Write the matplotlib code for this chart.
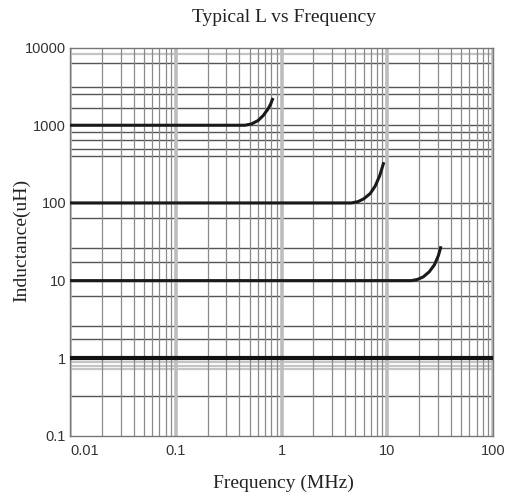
import numpy as np
import matplotlib
matplotlib.use('Agg')
import matplotlib.pyplot as plt
from matplotlib.ticker import FixedLocator, LogLocator, NullFormatter

# curves (frequency in MHz, inductance in uH)
f_1000 = [0.01, 0.45, 0.52, 0.60, 0.67, 0.74, 0.79, 0.82]
L_1000 = [1000, 1000, 1040, 1150, 1330, 1600, 1880, 2150]

f_100 = [0.01, 4.6, 5.3, 6.0, 6.9, 7.7, 8.5, 9.2]
L_100 = [100, 100, 104, 113, 132, 165, 225, 320]

f_10 = [0.01, 17.0, 19.5, 22.0, 25.0, 28.0, 30.5, 32.0]
L_10 = [10, 10, 10.4, 11.2, 13.0, 16.0, 21.0, 26.5]

f_1 = [0.01, 100]
L_1 = [1, 1]

# horizontal rulings of the printed chart paper
hgrid_dark = [0.33, 1.77, 2.6, 6.3, 17.5, 26.5, 64,
              400, 500, 650, 820, 1670, 2560, 3070, 6300]
hgrid_light = [0.72, 0.8, 0.9, 8300]

xticks = [0.01, 0.1, 1, 10, 100]
xticklabels = ['0.01', '0.1', '1', '10', '100']
yticks = [0.1, 1, 10, 100, 1000, 10000]
yticklabels = ['0.1', '1', '10', '100', '1000', '10000']

fig = plt.figure(figsize=(5.05, 4.98), dpi=100)
ax = fig.add_axes([0.139, 0.1245, 0.837, 0.780])
ax.set_xscale('log')
ax.set_yscale('log')
ax.set_xlim(0.01, 100)
ax.set_ylim(0.1, 10000)

# vertical rulings
ax.xaxis.set_minor_locator(LogLocator(base=10, subs=np.arange(2, 10)))
ax.xaxis.set_minor_formatter(NullFormatter())
ax.grid(True, which='minor', axis='x', color='#8a8a8a', lw=0.9)
ax.grid(True, which='major', axis='x', color='#bdbdbd', lw=2.6)
ax.yaxis.set_minor_locator(FixedLocator([]))

for v in hgrid_light:
    ax.axhline(v, color='#c4c4c4', lw=1.6, zorder=1)
for v in hgrid_dark:
    ax.axhline(v, color='#555555', lw=1.0, zorder=1)
for v in yticks[1:-1]:
    ax.axhline(v, color='#555555', lw=1.0, zorder=1)

ax.plot(f_1000, L_1000, color='#1a1a1a', lw=2.2, zorder=3)
ax.plot(f_100, L_100, color='#1a1a1a', lw=2.2, zorder=3)
ax.plot(f_10, L_10, color='#1a1a1a', lw=2.2, zorder=3)
ax.plot(f_1, L_1, color='#111111', lw=3.0, zorder=3)

for s in ax.spines.values():
    s.set_color('#777777')
    s.set_linewidth(1.0)

ax.set_xticks(xticks)
ax.set_xticklabels(xticklabels, family='Liberation Sans', fontsize=10.5, color='#333333')
ax.set_yticks(yticks)
ax.set_yticklabels(yticklabels, family='Liberation Sans', fontsize=10.5, color='#333333')
ax.tick_params(which='both', length=0)
ax.tick_params(axis='x', pad=6)
ax.tick_params(axis='y', pad=3)
ax.get_xticklabels()[0].set_ha('left')

fig.text(0.562, 1 - 18 / 498, 'Typical L vs Frequency', family='Liberation Serif',
         fontsize=14, color='#222222', ha='center', va='center')
fig.text(0.561, 1 - 483 / 498, 'Frequency (MHz)', family='Liberation Serif',
         fontsize=14, color='#222222', ha='center', va='center')
fig.text(22 / 505, 1 - 240 / 498, 'Inductance(uH)', family='Liberation Serif',
         fontsize=14, color='#222222', ha='center', va='center', rotation=90)

fig.savefig('out.png', dpi=100)
